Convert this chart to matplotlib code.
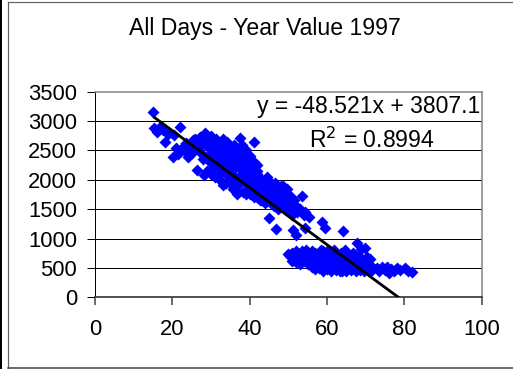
import matplotlib
matplotlib.use("Agg")
import matplotlib.pyplot as plt
from matplotlib.lines import Line2D
import numpy as np

plt.rcParams['font.family'] = ['Liberation Sans', 'DejaVu Sans']

title = "All Days - Year Value 1997"
slope = -48.521
intercept = 3807.1
r_squared = 0.8994
x_ticks = [0, 20, 40, 60, 80, 100]
y_ticks = [0, 500, 1000, 1500, 2000, 2500, 3000, 3500]

# upper (steep) cluster
x_upper = [15.1, 15.3, 16.0, 16.8, 17.5, 18.1, 19.0, 20.3, 20.1, 21.5, 22.0, 22.8, 23.5, 24.1, 24.8,
           25.3, 25.9, 26.3, 26.8, 27.2, 27.5, 28.0, 28.2, 28.4, 28.8, 29.2, 29.5, 29.8, 30.0, 30.2,
           30.5, 30.8, 31.0, 31.2, 31.5, 31.8, 32.0, 32.2, 32.5, 32.8, 33.0, 33.2, 33.5, 33.8, 34.0,
           34.2, 34.5, 34.8, 35.0, 35.2, 35.5, 35.8, 36.0, 36.2, 36.5, 36.8, 37.0, 37.2, 37.5, 37.5,
           37.8, 38.0, 38.2, 38.5, 38.8, 39.0, 39.2, 39.5, 39.8, 40.0, 40.2, 40.5, 40.8, 41.0, 41.1,
           41.5, 41.8, 42.0, 42.3, 42.6, 43.0, 43.3, 43.6, 44.0, 44.3, 44.6, 44.8, 45.1, 45.3, 45.6,
           46.0, 46.3, 46.8, 47.0, 47.3, 47.6, 48.0, 48.3, 48.6, 49.0, 49.3, 49.6, 50.0, 50.3, 50.6,
           51.0, 51.1, 51.5, 51.9, 52.3, 53.5, 54.0, 54.3, 54.3, 55.4, 58.6, 59.5, 64.2,
           26.0, 27.0, 28.0, 29.0, 30.0, 31.0, 32.0, 33.0, 34.0, 35.0, 36.0, 37.0, 38.0, 39.0, 40.0,
           41.0, 42.0, 43.0, 29.0, 30.0, 31.0, 32.0, 33.0, 34.0, 35.0, 36.0, 37.0, 38.0, 39.0, 40.0,
           41.0, 42.0, 43.0, 44.0, 45.0, 46.0, 47.0, 48.0, 34.0, 36.0, 38.0, 39.0, 40.0, 41.0, 42.0,
           41.5, 42.5, 43.5, 44.5, 45.5, 46.5, 47.5, 48.5, 49.5, 50.5, 51.5, 52.5, 43.0, 44.0, 45.0,
           46.0, 47.0, 48.0, 49.0, 50.0, 51.0, 52.0, 53.0, 44.5, 46.5, 48.5, 21.0, 23.0, 24.0, 25.0]
y_upper = [3150, 2880, 2820, 2900, 2850, 2640, 2780, 2760, 2390, 2440, 2900, 2560, 2620, 2390, 2500,
           2680, 2700, 2170, 2580, 2730, 2450, 2620, 2080, 2790, 2700, 2560, 2400, 2300, 2750, 2180,
           2620, 2480, 2050, 2700, 2350, 2550, 2200, 2000, 2600, 2450, 1920, 2300, 2550, 2100, 2400,
           2650, 2250, 2000, 2500, 2150, 2350, 1850, 2450, 2050, 2300, 1750, 2500, 2200, 2705, 1950,
           2400, 2100, 1800, 2300, 2450, 1950, 2200, 1850, 2050, 2250, 1750, 2000, 2200, 1900, 2640,
           1800, 2100, 1700, 1950, 1650, 1850, 2000, 1750, 1600, 1900, 1700, 2000, 1345, 1800, 1600,
           1750, 1550, 1163, 1700, 1500, 1800, 1650, 1550, 1900, 1750, 1480, 1850, 1600, 1450, 1700,
           1550, 1146, 1500, 1060, 1450, 1724, 1400, 1458, 1174, 1373, 1288, 1174, 1129,
           2600, 2500, 2350, 2650, 2450, 2600, 2400, 2700, 2150, 2300, 2600, 2350, 2250, 2350, 2100,
           2050, 2150, 1950, 2150, 2100, 2250, 2100, 2250, 1950, 1950, 1900, 1800, 2000, 1750, 1850,
           1700, 1850, 1700, 1800, 1700, 1650, 1600, 1750, 2500, 2200, 2600, 2500, 2400, 2300, 2250,
           1950, 1800, 1900, 1850, 1750, 1800, 1650, 1700, 1600, 1550, 1650, 1500, 1650, 1700, 1900,
           1850, 1800, 1900, 1650, 1750, 1400, 1550, 1500, 2050, 1950, 1850, 2550, 2500, 2600, 2450]

# lower (flat) cluster
x_lower = [50.0, 50.5, 51.0, 51.5, 52.0, 52.5, 53.0, 53.5, 54.0, 54.5, 55.0, 55.5, 56.0, 56.5, 57.0,
           57.5, 58.0, 58.0, 58.5, 58.8, 59.0, 59.3, 59.6, 60.0, 60.0, 60.3, 60.6, 61.0, 61.0, 61.4,
           61.8, 62.0, 62.3, 62.6, 63.0, 63.3, 63.6, 64.0, 64.3, 64.6, 65.0, 65.0, 65.4, 65.8, 66.2,
           66.5, 66.8, 67.0, 67.4, 67.8, 67.8, 68.2, 68.5, 68.8, 69.2, 69.5, 69.8, 70.0, 70.3, 70.5,
           71.0, 71.5, 72.0, 72.8, 73.5, 74.2, 75.0, 75.4, 75.9, 76.5, 77.2, 78.0, 79.0, 80.2, 81.0,
           82.0, 52.0, 53.0, 54.0, 55.0, 56.0, 57.0, 55.0, 56.0, 57.0, 58.0, 59.0, 60.0, 61.0, 62.0,
           63.0, 64.0, 65.0, 66.0, 62.0, 59.0, 57.0, 53.0, 51.0, 55.0, 64.0, 63.0, 66.0, 68.0, 69.0,
           70.0, 71.0]
y_lower = [740, 700, 760, 680, 790, 720, 650, 780, 700, 800, 640, 730, 680, 600, 760,
           560, 700, 500, 800, 620, 450, 720, 550, 780, 480, 650, 580, 450, 720, 520,
           800, 620, 470, 700, 560, 450, 760, 640, 500, 800, 450, 580, 680, 520, 460,
           620, 760, 500, 450, 919, 580, 700, 470, 830, 540, 450, 834, 620, 692, 480,
           550, 450, 500, 493, 450, 520, 470, 522, 408, 480, 440, 493, 460, 493, 450,
           437, 600, 560, 620, 560, 520, 480, 760, 790, 650, 570, 640, 720, 600, 540,
           680, 560, 720, 560, 760, 780, 700, 730, 620, 600, 450, 620, 700, 640, 600,
           520, 650]

x_data = x_upper + x_lower
y_data = y_upper + y_lower

W, H = 513, 369
fig = plt.figure(figsize=(W / 72, H / 72), dpi=72)
ax = fig.add_axes([95 / W, 1 - 297.3 / H, (481.7 - 95) / W, (297.3 - 91.7) / H])

ax.scatter(x_data, y_data, marker='D', s=72, color='#0000FF', linewidths=0, zorder=3)

xl = np.array([min(x_data), max(x_data)])
ax.plot(xl, slope * xl + intercept, color='black', lw=2.8, zorder=4, solid_capstyle='butt')

ax.set_xlim(0, 100)
ax.set_ylim(0, 3500)
ax.set_xticks(x_ticks)
ax.set_yticks(y_ticks)
ax.set_xticklabels([str(t) for t in x_ticks])
ax.set_yticklabels([str(t) for t in y_ticks])
ax.tick_params(axis='both', direction='out', length=8, width=1, labelsize=22, color='black')
ax.tick_params(axis='y', pad=10)
ax.tick_params(axis='x', pad=14, color='#404040', width=1.5)

for v in y_ticks[1:-1]:
    ax.axhline(v, color='black', lw=1, zorder=1)
ax.spines['top'].set_color('#808080')
ax.spines['right'].set_color('#808080')
ax.spines['top'].set_linewidth(1.5)
ax.spines['right'].set_linewidth(1.5)
ax.spines['left'].set_color('black')
ax.spines['left'].set_linewidth(1)
ax.spines['bottom'].set_color('#404040')
ax.spines['bottom'].set_linewidth(1.8)

ax.text(480 / W, 1 - 107 / H, "y = %.3fx + %.1f" % (slope, intercept), transform=fig.transFigure,
        ha='right', va='center', fontsize=23)
ax.text(372 / W, 1 - 140 / H, "R$^2$ = %.4f" % r_squared, transform=fig.transFigure,
        ha='center', va='center', fontsize=23)

fig.text(265 / W, 1 - 28 / H, title, ha='center', va='center', fontsize=23)

# chart border
fig.add_artist(Line2D([1 / W, 1 / W], [0, 1], transform=fig.transFigure, color='black', lw=2))
fig.add_artist(Line2D([7.5 / W, 7.5 / W], [1 / H, 1 - 2 / H], transform=fig.transFigure, color='#606060', lw=1.2))
fig.add_artist(Line2D([7.5 / W, 1], [1 - 2 / H, 1 - 2 / H], transform=fig.transFigure, color='#606060', lw=1.2))
fig.add_artist(Line2D([7.5 / W, 1], [1.5 / H, 1.5 / H], transform=fig.transFigure, color='#404040', lw=1.5))

fig.savefig("out.png", dpi=72)
